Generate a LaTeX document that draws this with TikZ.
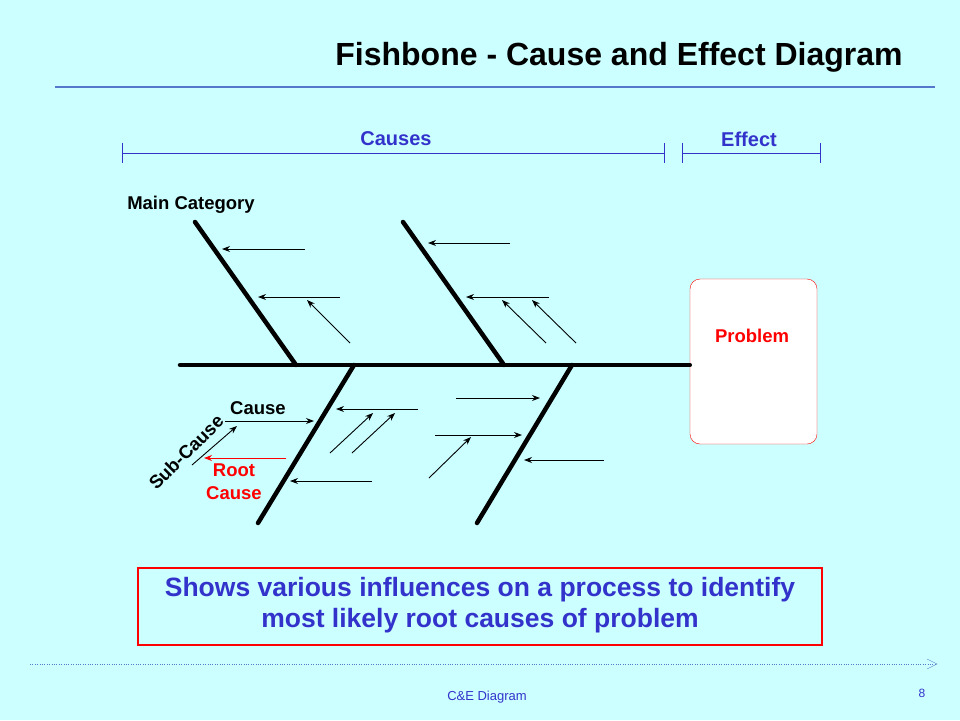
\documentclass[tikz,border=0pt]{standalone}
\usepackage{fontspec}
\setmainfont{Liberation Sans}
\usetikzlibrary{arrows.meta}
\definecolor{bgcyan}{HTML}{CCFFFF}
\definecolor{txtblue}{HTML}{3333CC}
\definecolor{lineblue}{HTML}{5577CC}
\tikzset{
    bone/.style={line width=4.5pt, line cap=round},
    sub/.style={-{Stealth[length=8pt,width=6pt]}, line width=0.9pt},
    lbl/.style={font=\bfseries\fontsize{18.5}{23}\selectfont}}
\begin{document}
\begin{tikzpicture}[x=1pt,y=-1pt]
    \fill[bgcyan] (0,0) rectangle (960,720);
    \useasboundingbox (0,0) rectangle (960,720);
    % title
    \node[font=\bfseries\fontsize{32}{38}\selectfont] (title) at (619,57) {Fishbone - Cause and Effect Diagram};
    \draw[lineblue, line width=1.2pt] (55,87) -- (935,87);
    % causes / effect brackets
    \draw[txtblue] (122,143) -- (122,163) (122,153) -- (664,153) (664,143) -- (664,163);
    \draw[txtblue] (682,143) -- (682,163) (682,153) -- (820,153) (820,143) -- (820,163);
    \node[lbl, txtblue, font=\bfseries\fontsize{20}{24}\selectfont] (causes) at (396,139) {Causes};
    \node[lbl, txtblue, font=\bfseries\fontsize{20}{24}\selectfont] (effect) at (749,139) {Effect};
    % problem box
    \node[draw=red, fill=white, rounded corners=10pt, minimum width=127pt, minimum height=165pt] (prob) at (753.5,361.5) {};
    \node[lbl, red] (problbl) at (752,336) {Problem};
    % spine and bones
    \coordinate (tail) at (180,365);
    \draw[bone] (tail) -- (prob.west |- tail);
    \draw[bone] (195,222) -- (296,365);
    \draw[bone] (403,222) -- (504,365);
    \draw[bone] (354,365) -- (258,523);
    \draw[bone] (572,365) -- (477,523);
    \node[lbl] (maincat) at (191,205) {Main Category};
    % arrows on upper bones
    \draw[sub] (305,249) -- (222,249);
    \draw[sub] (340,297) -- (258,297);
    \draw[sub] (350,343) -- (307,300);
    \draw[sub] (510,243) -- (428,243);
    \draw[sub] (549,297) -- (466,297);
    \draw[sub] (546,343) -- (502,300);
    \draw[sub] (576,343) -- (532,300);
    % arrows on lower bones
    \draw[sub] (225,421) -- (314,421);
    \draw[sub] (418,409) -- (336,409);
    \draw[sub] (330,453) -- (373,413);
    \draw[sub] (352,453) -- (395,413);
    \draw[sub] (372,481) -- (290,481);
    \draw[sub, red] (286,458) -- (204,458);
    \draw[sub] (192,465) -- (237,426);
    \draw[sub] (456,398) -- (540,398);
    \draw[sub] (435,435) -- (522,435);
    \draw[sub] (429,478) -- (471,437);
    \draw[sub] (604,460) -- (524,460);
    \node[lbl] (cause) at (258,408) {Cause};
    \node[lbl, rotate=45] (subcause) at (186,452) {Sub-Cause};
    \node[lbl, red, align=center] (root) at (234,482) {Root\\Cause};
    % summary box
    \node[draw=red, line width=2pt, minimum width=684pt, minimum height=77pt] (box) at (480,606.5) {};
    \node[txtblue, align=center, font=\bfseries\fontsize{26.5}{31}\selectfont] (summary) at (480,605.5) {Shows various influences on a process to identify\\most likely root causes of problem};
    % footer
    \coordinate (fl) at (30,664);
    \coordinate (fr) at (937,664);
    \draw[lineblue, dotted] (fl) -- (fr);
    \draw[lineblue] (927,659) -- (937,664) -- (927,669);
    \node[txtblue, font=\fontsize{13}{16}\selectfont] (foot) at (487,697) {C\&E Diagram};
    \node[txtblue, font=\fontsize{12}{14}\selectfont] (page) at (922,693) {8};
\end{tikzpicture}
\end{document}
